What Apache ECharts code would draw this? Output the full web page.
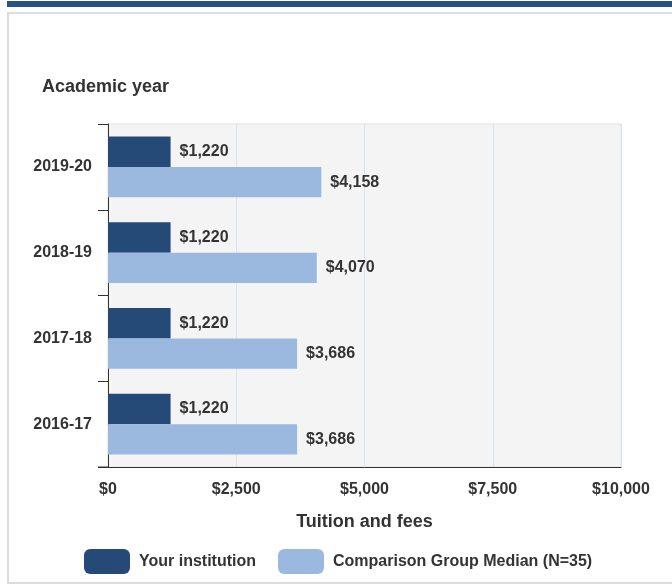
<!DOCTYPE html>
<html>
<head>
<meta charset="utf-8">
<script src="https://cdn.jsdelivr.net/npm/echarts@6/dist/echarts.min.js"></script>
<style>
  html, body { margin: 0; padding: 0; background: #fff; }
  #chart { width: 672px; height: 586px; }
</style>
</head>
<body>
<div id="chart"></div>
<script>
// academic years, top to bottom
const years = ['2019-20', '2018-19', '2017-18', '2016-17'];
const yourInstitution = [1220, 1220, 1220, 1220];
const comparisonMedian = [4158, 4070, 3686, 3686];
const xTicks = [0, 2500, 5000, 7500, 10000];

const font = '"Liberation Sans", Arial, sans-serif';
const textColor = '#333';

const money = v => '$' + v.toLocaleString('en-US');

const chart = echarts.init(document.getElementById('chart'));

const option = {
  animation: false,
  textStyle: { fontFamily: font },
  graphic: [
    // blue strip on top
    { type: 'rect', shape: { x: 7, y: 1, width: 665, height: 6 }, style: { fill: '#2b5182' }, silent: true },
    // outer frame
    { type: 'rect', shape: { x: 8, y: 13, width: 670, height: 570 },
      style: { fill: 'none', stroke: '#dcdcdc', lineWidth: 2 }, silent: true },
    { type: 'text', left: 42, top: 78,
      style: { text: 'Academic year', font: 'bold 18px ' + font, fill: textColor } },
    // x axis line runs under the y ticks
    { type: 'line', shape: { x1: 98, y1: 467, x2: 108, y2: 467 },
      style: { stroke: '#333', lineWidth: 1 }, silent: true }
  ],
  grid: {
    left: 108, right: 51, top: 124, bottom: 119,
    show: true, backgroundColor: '#f4f4f4', borderColor: '#e2e2e2', borderWidth: 1
  },
  legend: {
    left: 79, top: 544,
    itemWidth: 46, itemHeight: 25, itemGap: 22,
    icon: 'roundRect',
    textStyle: { fontSize: 16, fontWeight: 'bold', color: textColor, padding: [0, 0, 0, 4] },
    data: ['Your institution', 'Comparison Group Median (N=35)']
  },
  xAxis: {
    type: 'value',
    min: xTicks[0], max: xTicks[xTicks.length - 1], interval: xTicks[1] - xTicks[0],
    name: 'Tuition and fees',
    nameLocation: 'middle',
    nameGap: 46,
    nameTextStyle: { fontSize: 18, fontWeight: 'bold', color: textColor },
    axisLine: { show: true, lineStyle: { color: '#333' } },
    axisTick: { show: false },
    axisLabel: { margin: 15, fontSize: 16, fontWeight: 'bold', color: textColor, formatter: v => money(v) },
    splitLine: { show: true, lineStyle: { color: '#dce3f0' } }
  },
  yAxis: {
    type: 'category',
    data: years,
    inverse: true,
    axisLine: { show: true, lineStyle: { color: '#333' } },
    axisTick: { show: true, length: 10, lineStyle: { color: '#333' } },
    axisLabel: { margin: 16, fontSize: 16, fontWeight: 'bold', color: textColor },
    splitLine: { show: false }
  },
  series: [
    {
      name: 'Your institution',
      type: 'bar',
      data: yourInstitution,
      barGap: '0%',
      barCategoryGap: '29%',
      itemStyle: { color: '#264a78' },
      label: { show: true, position: 'right', distance: 9, fontSize: 16, fontWeight: 'bold', color: textColor, formatter: p => money(p.value) }
    },
    {
      name: 'Comparison Group Median (N=35)',
      type: 'bar',
      data: comparisonMedian,
      barGap: '0%',
      barCategoryGap: '29%',
      itemStyle: { color: '#9bb9df' },
      label: { show: true, position: 'right', distance: 9, fontSize: 16, fontWeight: 'bold', color: textColor, formatter: p => money(p.value) }
    }
  ]
};

chart.setOption(option);
</script>
</body>
</html>
